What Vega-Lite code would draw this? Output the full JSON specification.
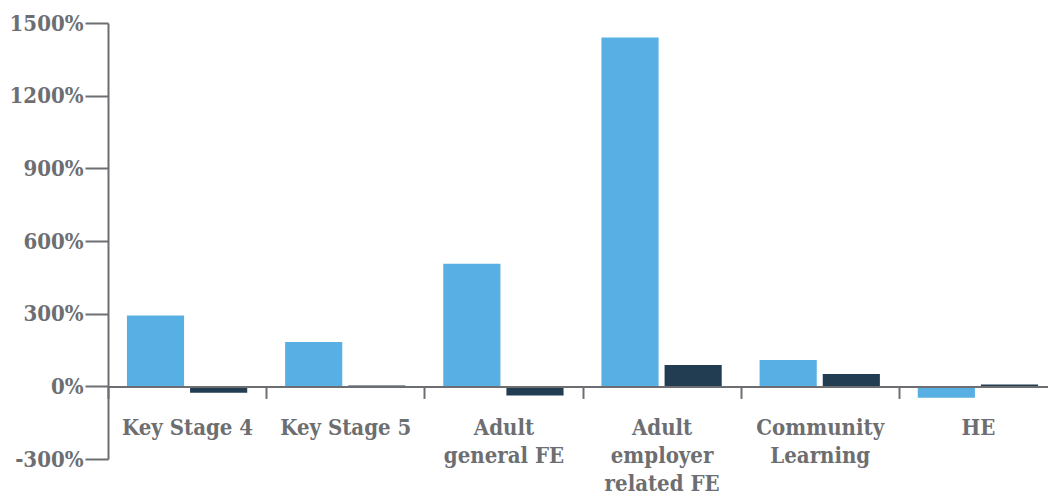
{
  "$schema": "https://vega.github.io/schema/vega-lite/v6.json",
  "width": 949,
  "height": 436,
  "autosize": {"type": "none"},
  "padding": {"left": 108, "top": 23, "right": 0, "bottom": 34},
  "background": "white",
  "data": {
    "values": [
      {"sector": "Key Stage 4", "series": "Series A", "change": 292},
      {"sector": "Key Stage 4", "series": "Series B", "change": -26},
      {"sector": "Key Stage 5", "series": "Series A", "change": 183},
      {"sector": "Key Stage 5", "series": "Series B", "change": 3},
      {"sector": "Adult general FE", "series": "Series A", "change": 506},
      {"sector": "Adult general FE", "series": "Series B", "change": -38},
      {"sector": "Adult employer related FE", "series": "Series A", "change": 1440},
      {"sector": "Adult employer related FE", "series": "Series B", "change": 88},
      {"sector": "Community Learning", "series": "Series A", "change": 109},
      {"sector": "Community Learning", "series": "Series B", "change": 51},
      {"sector": "HE", "series": "Series A", "change": -47},
      {"sector": "HE", "series": "Series B", "change": 8}
    ]
  },
  "mark": {"type": "bar"},
  "encoding": {
    "x": {
      "field": "sector",
      "type": "nominal",
      "sort": null,
      "scale": {"paddingInner": 0, "paddingOuter": 0},
      "axis": {
        "title": null,
        "orient": "bottom",
        "offset": -72.6,
        "tickBand": "extent",
        "tickSize": 12,
        "tickWidth": 2,
        "tickColor": "#6d6e71",
        "domainWidth": 2,
        "domainColor": "#6d6e71",
        "labelAngle": 0,
        "labelBaseline": "top",
        "labelPadding": 19,
        "labelLineHeight": 28,
        "labelFont": "DejaVu Serif Condensed",
        "labelFontWeight": "bold",
        "labelFontSize": 22,
        "labelColor": "#6d6e71",
        "zindex": 1,
        "labelExpr": "datum.value == 'Adult general FE' ? ['Adult', 'general FE'] : datum.value == 'Adult employer related FE' ? ['Adult', 'employer', 'related FE'] : datum.value == 'Community Learning' ? ['Community', 'Learning'] : datum.value"
      }
    },
    "xOffset": {
      "field": "series",
      "type": "nominal",
      "scale": {"paddingInner": 0.095, "paddingOuter": 0.3}
    },
    "y": {
      "field": "change",
      "type": "quantitative",
      "scale": {"domain": [-300, 1500], "nice": false, "zero": false},
      "axis": {
        "title": null,
        "grid": false,
        "values": [-300, 0, 300, 600, 900, 1200, 1500],
        "labelExpr": "datum.value + '%'",
        "tickSize": 23,
        "tickWidth": 2,
        "tickColor": "#6d6e71",
        "domainWidth": 2,
        "domainColor": "#6d6e71",
        "labelPadding": 2,
        "labelFont": "DejaVu Serif Condensed",
        "labelFontWeight": "bold",
        "labelFontSize": 22,
        "labelColor": "#6d6e71",
        "zindex": 1
      }
    },
    "color": {
      "field": "series",
      "type": "nominal",
      "scale": {"range": ["#58afe3", "#223d52"]},
      "legend": null
    }
  },
  "config": {"view": {"stroke": null}}
}
